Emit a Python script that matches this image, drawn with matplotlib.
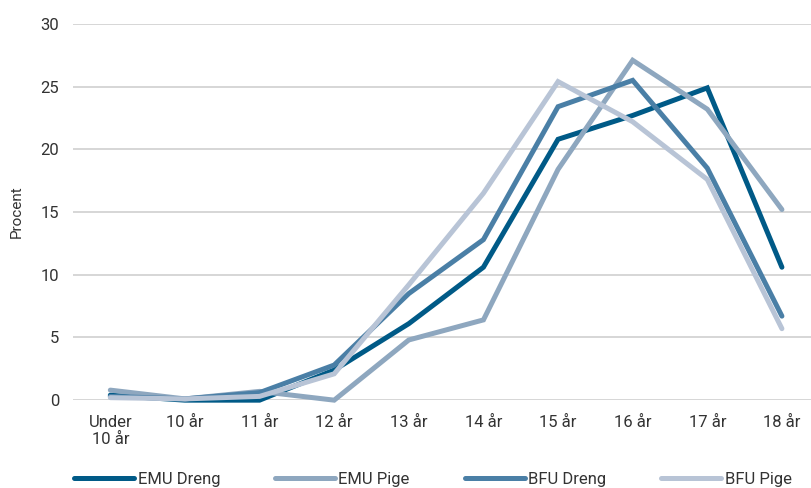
import numpy as np
import matplotlib
matplotlib.use("Agg")
import matplotlib.pyplot as plt

plt.rcParams['font.family'] = ['Roboto', 'DejaVu Sans']

# age groups on the x axis
ages = ["Under\n10 år", "10 år", "11 år", "12 år", "13 år", "14 år",
        "15 år", "16 år", "17 år", "18 år"]

# percent per age group
emu_dreng = [0.4, 0.0, 0.0, 2.4, 6.1, 10.6, 20.8, 22.7, 24.9, 10.6]
emu_pige = [0.8, 0.1, 0.7, 0.0, 4.8, 6.4, 18.4, 27.1, 23.2, 15.2]
bfu_dreng = [0.3, 0.1, 0.6, 2.8, 8.5, 12.8, 23.4, 25.5, 18.5, 6.7]
bfu_pige = [0.2, 0.1, 0.3, 2.1, 9.2, 16.5, 25.4, 22.2, 17.6, 5.7]

series = [("EMU Dreng", emu_dreng, "#005a87"),
          ("EMU Pige", emu_pige, "#8ea7bf"),
          ("BFU Dreng", bfu_dreng, "#4a7fa6"),
          ("BFU Pige", bfu_pige, "#b8c4d6")]

fig = plt.figure(figsize=(8.12, 4.88), dpi=100)
ax = fig.add_axes([0.0899, 0.180, 0.919, 0.771])

x = np.arange(len(ages))
for name, vals, col in series:
    ax.plot(x, vals, color=col, lw=3.6, label=name, solid_capstyle='round',
            solid_joinstyle='miter', clip_on=False)

ax.set_xlim(-0.5, len(ages) - 0.5)
ax.set_ylim(0, 30)
ax.set_yticks(range(0, 31, 5))
ax.set_xticks(x)
ax.set_xticklabels(ages, linespacing=1.15)
ax.grid(axis='y', color='#d0d0d0', lw=1.2)
ax.set_axisbelow(True)
for s in ax.spines.values():
    s.set_visible(False)
ax.tick_params(length=0, labelsize=12, colors='#333333')
ax.tick_params(axis='x', pad=11)
ax.tick_params(axis='y', pad=10)
ax.set_ylabel("Procent", fontsize=11, color='#333333', labelpad=12)

fig.legend(loc='lower left', bbox_to_anchor=(0.073, -0.028), ncol=4, frameon=False,
           fontsize=12, handlelength=3.6, handletextpad=0.2, columnspacing=3.3,
           labelcolor='#333333')

fig.savefig("out.png", dpi=100)
